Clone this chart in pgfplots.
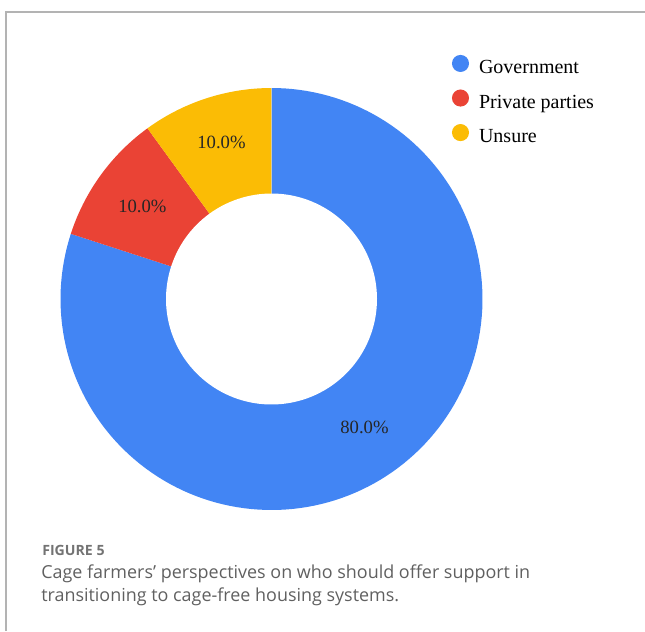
\documentclass[border=0pt]{standalone}
\usepackage{fontspec}
\setmainfont{Liberation Serif}
\newfontfamily\capfont{Open Sans}
\usepackage{pgfplots}
\pgfplotsset{compat=1.18}
\definecolor{gBlue}{HTML}{4285F4}
\definecolor{gRed}{HTML}{EA4335}
\definecolor{gYellow}{HTML}{FBBC05}
\definecolor{frameGray}{HTML}{B3B3B3}
\definecolor{capGray}{HTML}{606060}
\definecolor{figGray}{HTML}{737373}
% data (percent)
\def\vGov{80}
\def\vPriv{10}
\def\vUns{10}
\pgfmathsetmacro\total{\vGov+\vPriv+\vUns}
\pgfmathsetmacro\aA{90}
\pgfmathsetmacro\aB{90-360*(\vGov/\total)}
\pgfmathsetmacro\aC{\aB-360*(\vPriv/\total)}
\pgfmathsetmacro\aD{\aC-360*(\vUns/\total)}
\pgfmathsetmacro\mA{(\aA+\aB)/2}
\pgfmathsetmacro\mB{(\aB+\aC)/2}
\pgfmathsetmacro\mC{(\aC+\aD)/2}
\begin{document}
\begin{tikzpicture}[x=0.75pt,y=-0.75pt]
\useasboundingbox (0,0) rectangle (645,631);
\draw[frameGray, line width=1.1pt] (6,631) -- (6,12) -- (645,12);
\begin{axis}[
  at={(203.625pt,-224.25pt)}, anchor=center,
  scale only axis, width=316.5pt, height=316.5pt,
  xmin=-1, xmax=1, ymin=-1, ymax=1,
  hide axis, clip=false,
  legend cell align=left,
  legend image code/.code={\fill[#1] (0pt,0.35em) circle (6.4pt);},
  legend style={draw=none, fill=none, inner sep=0pt,
    at={(axis description cs:0.927,1.079)}, anchor=north west,
    font=\fontsize{15}{18}\selectfont, row sep=8.3pt,
    /tikz/every odd column/.style={column sep=5.5pt}},
]
\addplot[fill=gBlue, draw=none, domain=\aB:\aA, samples=150] ({cos(x)},{sin(x)}) -- (axis cs:0,0) -- cycle;
\addlegendentry{Government}
\addplot[fill=gRed, draw=none, domain=\aC:\aB, samples=30] ({cos(x)},{sin(x)}) -- (axis cs:0,0) -- cycle;
\addlegendentry{Private parties}
\addplot[fill=gYellow, draw=none, domain=\aD:\aC, samples=30] ({cos(x)},{sin(x)}) -- (axis cs:0,0) -- cycle;
\addlegendentry{Unsure}
\addplot[fill=white, draw=none, domain=0:360, samples=150, forget plot] ({0.5*cos(x)},{0.5*sin(x)}) -- cycle;
\node[font=\fontsize{14}{16}\selectfont, text=black!85] at (axis cs:{0.75*cos(\mA)},{0.75*sin(\mA)}) {80.0\%};
\node[font=\fontsize{14}{16}\selectfont, text=black!85] at (axis cs:{0.75*cos(\mB)-0.005},{0.75*sin(\mB)}) {10.0\%};
\node[font=\fontsize{14}{16}\selectfont, text=black!85] at (axis cs:{0.75*cos(\mC)-0.005},{0.75*sin(\mC)+0.03}) {10.0\%};
\end{axis}
\node[anchor=base west, inner sep=0pt, text=figGray, font=\capfont\bfseries\fontsize{10.6}{13}\selectfont] at (42,555) {FIGURE 5};
\node[anchor=base west, inner sep=0pt, text=capGray, font=\capfont\fontsize{13.45}{16}\selectfont] at (41,578) {Cage farmers’ perspectives on who should offer support in};
\node[anchor=base west, inner sep=0pt, text=capGray, font=\capfont\fontsize{13.45}{16}\selectfont] at (41,601) {transitioning to cage-free housing systems.};
\end{tikzpicture}
\end{document}
